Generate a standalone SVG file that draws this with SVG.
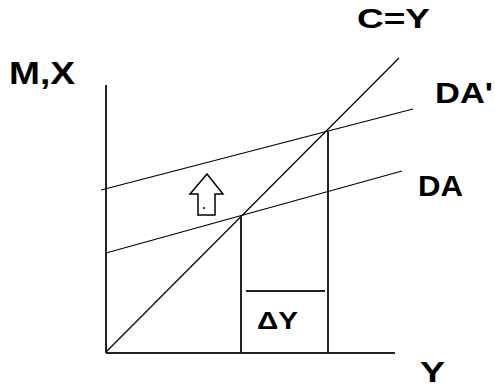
<svg xmlns="http://www.w3.org/2000/svg" width="495" height="389" viewBox="0 0 495 389">
<style>
.lbl{font-family:"Liberation Sans",Arial,sans-serif;font-weight:bold;fill:#000}
.ln{stroke:#000;stroke-width:1.2;fill:none}
.ax{stroke:#222;stroke-width:2;fill:none}
</style>
<rect width="495" height="389" fill="#fff"/>
<g id="connectors">
<line id="y-axis" class="ax" x1="106" y1="85" x2="106" y2="353"/>
<line id="x-axis" class="ax" x1="106" y1="353" x2="395" y2="353"/>
<line id="c-eq-y" class="ln" x1="106" y1="352" x2="399" y2="58"/>
<line id="da-prime" class="ln" x1="101" y1="190" x2="413" y2="109"/>
<line id="da" class="ln" x1="106" y1="253" x2="402" y2="171"/>
<line id="v1" class="ax" x1="241" y1="216" x2="241" y2="353"/>
<line id="v2" class="ax" x1="328" y1="131" x2="328" y2="353"/>
<line id="dy-bar" class="ax" x1="246" y1="291" x2="325" y2="291"/>
</g>
<g id="shift-arrow">
<polygon points="207,174 223,194 215,194 215,215 198,215 198,194 190,194" fill="#fff" stroke="#000" stroke-width="1.5" stroke-linejoin="miter"/>
<circle cx="204" cy="208" r="1" fill="#000"/>
</g>
<g id="label-mx"><text class="lbl" x="9" y="84" font-size="31" textLength="66" lengthAdjust="spacingAndGlyphs">M,X</text></g>
<g id="label-cy"><text class="lbl" x="357" y="28" font-size="28" textLength="73" lengthAdjust="spacingAndGlyphs">C=Y</text></g>
<g id="label-dap"><text class="lbl" x="435" y="103" font-size="30" textLength="58" lengthAdjust="spacingAndGlyphs">DA'</text></g>
<g id="label-da"><text class="lbl" x="418" y="196" font-size="30" textLength="45" lengthAdjust="spacingAndGlyphs">DA</text></g>
<g id="label-dy"><text class="lbl" x="257" y="329" font-size="23" textLength="41" lengthAdjust="spacingAndGlyphs">ΔY</text></g>
<g id="label-y"><text class="lbl" x="420" y="382" font-size="29" textLength="25" lengthAdjust="spacingAndGlyphs">Y</text></g>
</svg>
